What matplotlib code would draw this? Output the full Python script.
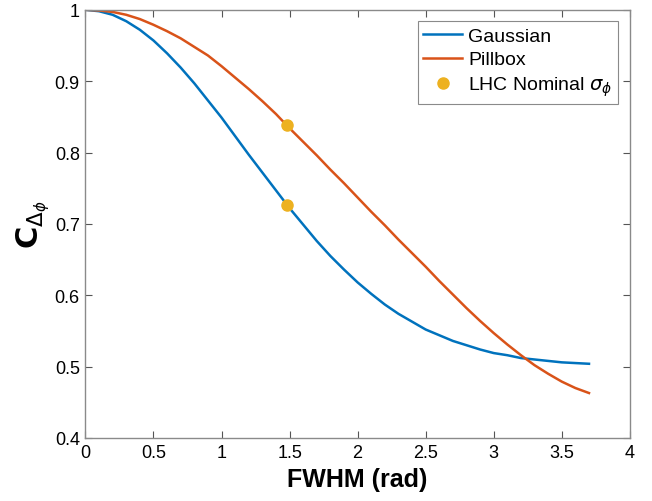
import matplotlib.pyplot as plt
from matplotlib.ticker import FuncFormatter

# curve values (FWHM step 0.1, last point 3.7)
fwhm = [round(0.1 * i, 1) for i in range(38)]
gaussian = [1.000, 0.998, 0.993, 0.984, 0.972, 0.957, 0.939, 0.919, 0.897, 0.873,
            0.849, 0.823, 0.797, 0.772, 0.747, 0.722, 0.699, 0.676, 0.655, 0.636,
            0.618, 0.602, 0.587, 0.574, 0.563, 0.552, 0.544, 0.536, 0.530, 0.524,
            0.519, 0.516, 0.512, 0.510, 0.508, 0.506, 0.505, 0.504]
pillbox = [1.000, 0.999, 0.997, 0.993, 0.987, 0.979, 0.970, 0.960, 0.948, 0.936,
           0.921, 0.905, 0.889, 0.872, 0.854, 0.834, 0.815, 0.796, 0.776, 0.757,
           0.737, 0.717, 0.698, 0.678, 0.659, 0.640, 0.620, 0.601, 0.582, 0.564,
           0.547, 0.531, 0.516, 0.502, 0.490, 0.479, 0.470, 0.463]

# LHC nominal points
nominal_x = [1.48, 1.48]
nominal_y = [0.727, 0.838]

plt.rcParams['font.family'] = ['Liberation Sans', 'DejaVu Sans']
plt.rcParams['mathtext.fontset'] = 'dejavusans'

fig = plt.figure(figsize=(6.52, 5.02), dpi=100)
ax = fig.add_axes([0.131, 0.1255, 0.835, 0.853])

ax.plot(fwhm, gaussian, color='#0072BD', lw=1.8, label='Gaussian')
ax.plot(fwhm, pillbox, color='#D95319', lw=1.8, label='Pillbox')
ax.plot(nominal_x, nominal_y, 'o', color='#EDB120', ms=8, ls='none',
        label=r'LHC Nominal $\sigma_\phi$')

ax.set_xlim(0, 4)
ax.set_ylim(0.4, 1)
ax.set_xticks([0, 0.5, 1, 1.5, 2, 2.5, 3, 3.5, 4])
ax.set_yticks([0.4, 0.5, 0.6, 0.7, 0.8, 0.9, 1])
fmt = FuncFormatter(lambda v, p: ('%g' % round(v, 2)))
ax.xaxis.set_major_formatter(fmt)
ax.yaxis.set_major_formatter(fmt)
ax.tick_params(direction='in', length=5, width=0.8, color='#555555',
               labelsize=13, top=True, right=True, pad=4)
for s in ax.spines.values():
    s.set_color('#8a8a8a')
    s.set_linewidth(1.0)

ax.set_xlabel('FWHM (rad)', fontsize=18, fontweight='bold', labelpad=5)
ax.set_ylabel(r'$\mathbf{C}_{\Delta_\phi}$', fontsize=22, labelpad=2)

leg = ax.legend(loc='upper right', fontsize=14, fancybox=False, framealpha=1,
                borderpad=0.3, handlelength=2.0, handletextpad=0.3,
                labelspacing=0.3, borderaxespad=0.6)
leg.get_frame().set_edgecolor('#8a8a8a')
leg.get_frame().set_linewidth(0.8)

fig.savefig('out.png', dpi=100)
